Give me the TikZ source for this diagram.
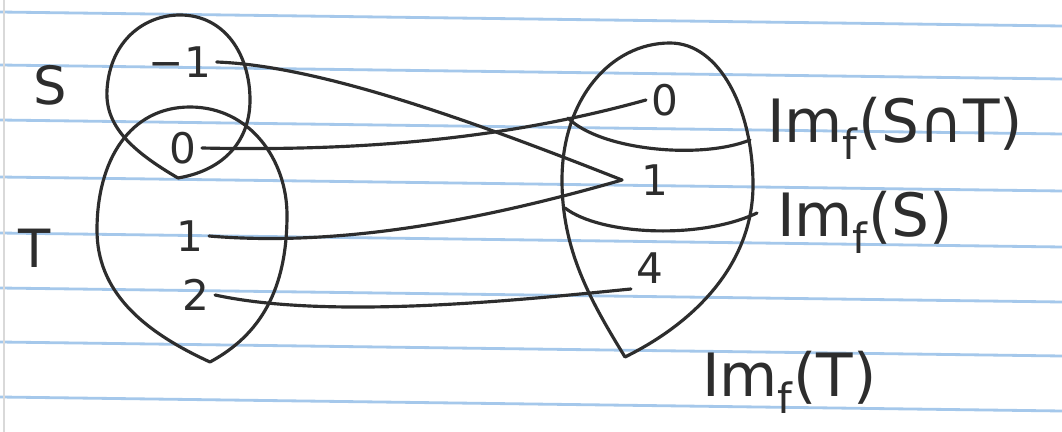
\documentclass[tikz,border=0pt]{standalone}
\usepackage{fontspec}
\setmainfont{DejaVu Sans}
\usetikzlibrary{positioning}
\definecolor{ink}{RGB}{45,45,45}
\definecolor{ruleblue}{RGB}{165,200,235}

\tikzset{
  ink line/.style={draw=ink, line width=1.8pt, line cap=round, line join=round},
  paper rule/.style={draw=ruleblue, line width=1.6pt},
  digit/.style={text=ink, font=\fontsize{24}{26}\selectfont, inner sep=3pt},
  setname/.style={text=ink, font=\fontsize{30}{32}\selectfont, inner sep=1pt},
  tag/.style={text=ink, font=\fontsize{34}{38}\selectfont, inner sep=1pt, anchor=west}
}

\begin{document}
\begin{tikzpicture}[x=0.02cm, y=-0.02cm]
\useasboundingbox (0,0) rectangle (1062,432);
\fill[white] (0,0) rectangle (1062,432);
% ruled paper
\foreach \ry in {12,65,120,177,233,288,342,397}
  \draw[paper rule] (0,\ry) -- (1062,\ry+14);
\draw[black!15, line width=0.8pt] (4,0) -- (4,432);

% the sets S and T
\draw[ink line] (178,178) .. controls (130,150) and (105,125) .. (107,90)
  .. controls (110,40) and (145,15) .. (180,15)
  .. controls (225,15) and (250,55) .. (250,100)
  .. controls (250,140) and (225,170) .. (178,178);
\draw[ink line] (210,362) .. controls (140,330) and (97,290) .. (97,230)
  .. controls (97,160) and (130,107) .. (190,107)
  .. controls (250,107) and (287,160) .. (287,215)
  .. controls (287,290) and (260,335) .. (210,362);

% the image of T, cut in three
\draw[ink line] (625,357) .. controls (590,300) and (562,250) .. (562,180)
  .. controls (562,100) and (610,43) .. (670,43)
  .. controls (720,43) and (753,110) .. (753,185)
  .. controls (753,260) and (700,320) .. (625,357);
\draw[ink line] (568,118) .. controls (600,150) and (700,160) .. (750,140);
\draw[ink line] (565,208) .. controls (600,235) and (700,240) .. (757,213);

% names and elements
\node[setname] (labS) at (50,85) {S};
\node[setname] (labT) at (35,248) {T};
\node[digit] (sm1) at (180,62) {−1};
\node[digit] (s0) at (183,148) {0};
\node[digit] (t1) at (190,236) {1};
\node[digit] (t2) at (196,295) {2};
\node[digit] (r0) at (665,100) {0};
\node[digit] (r1) at (655,180) {1};
\node[digit] (r4) at (650,268) {4};
\node[tag] (imST) at (765,128) {Im\textsubscript{f}(S∩T)};
\node[tag] (imS) at (775,222) {Im\textsubscript{f}(S)};
\node[tag] (imT) at (700,382) {Im\textsubscript{f}(T)};

% the map f
\coordinate (meet) at (622,180);
\draw[ink line] (sm1.east) .. controls (320,66) and (470,120) .. (meet);
\draw[ink line] (t1.east) .. controls (350,248) and (500,215) .. (meet);
\draw[ink line] (s0.east) .. controls (380,152) and (520,135) .. (r0.west);
\draw[ink line] (t2.east) .. controls (330,320) and (520,300) .. (r4.south west);
\end{tikzpicture}
\end{document}
